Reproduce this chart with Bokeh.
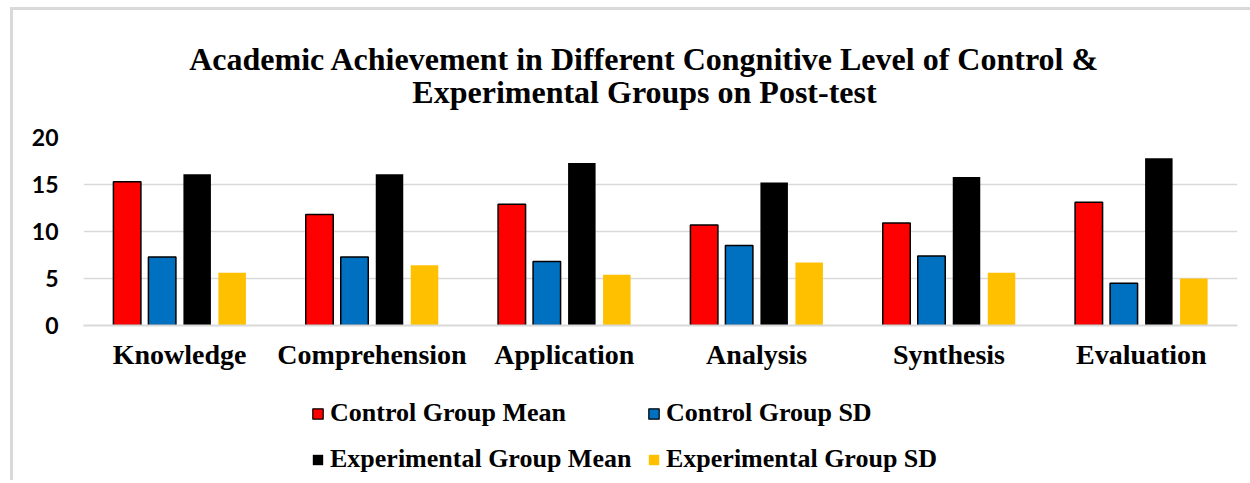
import numpy as np
from bokeh.plotting import figure
from bokeh.layouts import column
from bokeh.models import (FactorRange, Range1d, Legend, LegendItem, Label, FixedTicker,
                          ColumnDataSource)
from bokeh.transform import dodge
from bokeh.embed import file_html
from bokeh.resources import INLINE

categories = ["Knowledge", "Comprehension", "Application", "Analysis", "Synthesis", "Evaluation"]
control_mean = [15.3, 11.8, 12.9, 10.7, 10.9, 13.1]
control_sd = [7.3, 7.3, 6.8, 8.5, 7.4, 4.5]
experimental_mean = [16.1, 16.1, 17.3, 15.2, 15.8, 17.8]
experimental_sd = [5.6, 6.4, 5.4, 6.7, 5.6, 5.0]
series_names = ["Control Group Mean", "Control Group SD", "Experimental Group Mean", "Experimental Group SD"]
y_ticks = [0, 5, 10, 15, 20]
title_lines = ["Academic Achievement in Different Congnitive Level of Control &",
               "Experimental Groups on Post-test"]

serif = "Liberation Serif"
colors = ["#FF0000", "#0070C0", "#000000", "#FFC000"]
outlines = ["black", "black", None, None]
W = 1237


def bare(h):
    f = figure(width=W, height=h, x_range=Range1d(0, 1), y_range=Range1d(0, 1),
               x_axis_type=None, y_axis_type=None, output_backend="svg",
               toolbar_location=None, min_border_left=0, min_border_right=0,
               min_border_top=0, min_border_bottom=0)
    f.outline_line_color = None
    f.grid.visible = False
    return f


# ---- title strip ----
HT = 110
pt = bare(HT)
for txt, base in zip(title_lines, [48, 81]):
    pt.add_layout(Label(x=561, y=HT - base, x_units="screen", y_units="screen", text=txt,
                        text_align="center", text_baseline="alphabetic",
                        text_font=serif, text_font_style="bold", text_font_size="32px",
                        text_color="black"))

# ---- main chart ----
src = ColumnDataSource(dict(cat=categories, cm=control_mean, csd=control_sd,
                            em=experimental_mean, esd=experimental_sd))
HM = 270
p = figure(x_range=FactorRange(*categories), y_range=(0, 20), width=W, height=HM,
           output_backend="svg", toolbar_location=None,
           min_border_left=70, min_border_right=13, min_border_top=17, min_border_bottom=65)
p.outline_line_color = None

fields = ["cm", "csd", "em", "esd"]
offsets = [-0.273, -0.091, 0.091, 0.273]
for f, c, oc, off in zip(fields, colors, outlines, offsets):
    p.vbar(x=dodge("cat", off, range=p.x_range), top=f, width=0.143, source=src,
           fill_color=c, line_color=oc, line_width=1.5 if oc else 0)

p.yaxis.ticker = FixedTicker(ticks=y_ticks)
p.yaxis.axis_line_color = None
p.yaxis.major_tick_line_color = None
p.yaxis.minor_tick_line_color = None
p.yaxis.major_label_text_font = "Lato"
p.yaxis.major_label_text_font_style = "bold"
p.yaxis.major_label_text_font_size = "23px"
p.yaxis.major_label_text_color = "black"
p.yaxis.major_label_standoff = 19

p.xaxis.axis_line_color = "#d9d9d9"
p.xaxis.axis_line_width = 2
p.xaxis.major_tick_line_color = None
p.xaxis.minor_tick_line_color = None
p.xaxis.major_label_text_font = serif
p.xaxis.major_label_text_font_style = "bold"
p.xaxis.major_label_text_font_size = "28px"
p.xaxis.major_label_text_color = "black"
p.xaxis.major_label_standoff = 7

p.xgrid.grid_line_color = None
p.ygrid.grid_line_color = "#d9d9d9"
p.ygrid.grid_line_width = 1.5
p.ygrid.ticker = FixedTicker(ticks=y_ticks)

# ---- legend strip (legend swatches only; proxies hold no drawable point) ----
HL = 90
pl = bare(HL)
proxy = ColumnDataSource(dict(x=np.array([np.nan]), top=np.array([np.nan])))
legend_renderers = [pl.vbar(x="x", top="top", width=0.1, source=proxy, fill_color=c,
                            line_color=oc, line_width=1.2 if oc else 0)
                    for c, oc in zip(colors, outlines)]


def col_legend(idx, x):
    return Legend(items=[LegendItem(label=series_names[i], renderers=[legend_renderers[i]]) for i in idx],
                  orientation="vertical", location=(x, 6),
                  glyph_width=13, glyph_height=13, label_height=26, spacing=16,
                  padding=0, margin=0, label_standoff=6,
                  label_text_font=serif, label_text_font_style="bold",
                  label_text_font_size="26px", label_text_color="black",
                  border_line_color=None, background_fill_alpha=0)


pl.add_layout(col_legend([0, 2], 228), "center")
pl.add_layout(col_legend([1, 3], 564), "center")

layout = column(pt, p, pl, spacing=0)
layout.styles = {"margin-top": "7px", "margin-left": "10px",
                 "border-top": "3px solid #d9d9d9", "border-left": "3px solid #d9d9d9"}

open("out.html", "w").write(file_html(layout, INLINE))
